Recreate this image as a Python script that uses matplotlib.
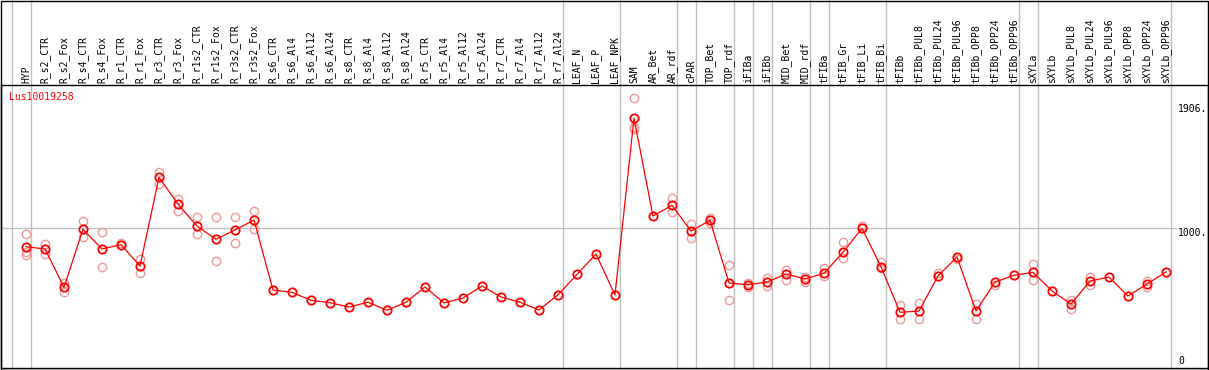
import matplotlib
matplotlib.use("Agg")
import matplotlib.pyplot as plt
from matplotlib.patches import Rectangle

# sample / tissue columns
labels = ["HYP", "R_s2_CTR", "R_s2_Fox", "R_s4_CTR", "R_s4_Fox", "R_r1_CTR", "R_r1_Fox",
          "R_r3_CTR", "R_r3_Fox", "R_r1s2_CTR", "R_r1s2_Fox", "R_r3s2_CTR", "R_r3s2_Fox",
          "R_s6_CTR", "R_s6_Al4", "R_s6_Al12", "R_s6_Al24", "R_s8_CTR", "R_s8_Al4",
          "R_s8_Al12", "R_s8_Al24", "R_r5_CTR", "R_r5_Al4", "R_r5_Al12", "R_r5_Al24",
          "R_r7_CTR", "R_r7_Al4", "R_r7_Al12", "R_r7_Al24", "LEAF_N", "LEAF_P", "LEAF_NPK",
          "SAM", "AR_Bet", "AR_rdf", "cPAR", "TOP_Bet", "TOP_rdf", "iFIBa", "iFIBb",
          "MID_Bet", "MID_rdf", "tFIBa", "tFIB_Gr", "tFIB_Li", "tFIB_Bi", "tFIBb",
          "tFIBb_PUL8", "tFIBb_PUL24", "tFIBb_PUL96", "tFIBb_OPP8", "tFIBb_OPP24",
          "tFIBb_OPP96", "sXYLa", "sXYLb", "sXYLb_PUL8", "sXYLb_PUL24", "sXYLb_PUL96",
          "sXYLb_OPP8", "sXYLb_OPP24", "sXYLb_OPP96"]

# mean expression per column
means = [866, 850, 572, 993, 850, 881, 726, 1370, 1176, 1017, 920, 988, 1060,
         552, 535, 477, 460, 428, 463, 405, 463, 574, 458, 494, 581, 501, 463, 407, 516,
         666, 813, 516, 1799, 1089, 1167, 980, 1058, 603, 590, 610, 668, 632, 673,
         826, 1000, 721, 390, 399, 654, 792, 399, 610, 659, 680, 545, 450, 617, 646,
         508, 596, 683]

# replicate values per column (empty = single replicate)
replicates = [[959, 830, 806], [884, 813], [605, 540], [1053, 939], [971, 717], [895],
              [777, 673], [1411, 1320], [1213, 1126], [1080, 956], [1080, 760],
              [1080, 891], [1126, 995],
              [], [], [], [], [], [], [], [], [], [], [], [], [], [], [], [],
              [], [], [],
              [1944, 1738, 1719], [], [1218, 1116], [1029, 927], [1077, 1036],
              [733, 477], [603, 576], [637, 583], [699, 625], [648, 610], [714, 656],
              [898, 782], [1017], [755, 710], [441, 339], [458, 341], [673], [777],
              [452, 341], [590], [], [743, 625], [], [479, 416], [644, 590], [],
              [], [619, 576], []]

# group separators (after these column indices)
separators = [-1, 0, 28, 31, 34, 35, 37, 38, 39, 41, 42, 45, 52, 53, 60]

W, H = 1209, 370
fig = plt.figure(figsize=(W / 100, H / 100), dpi=100)
ax = fig.add_axes([1 / W, (H - 368) / H, 1207 / W, 283 / H])
ax.set_xlim((1 - 26) / 19, (1208 - 26) / 19)
ax.set_ylim(-14.5, 2040.7)
ax.set_xticks([])
ax.set_yticks([])
for s in ax.spines.values():
    s.set_color("black")
    s.set_linewidth(1)

mono = "DejaVu Sans Mono"
fs = 7

for c in separators:
    ax.axvline(c + 5 / 19, ymin=0, ymax=368 / 283, color="#c0c0c0", lw=1,
               clip_on=False, zorder=1)
ax.plot([ax.get_xlim()[0], (1176 - 26) / 19], [1000, 1000], color="#c0c0c0", lw=1,
        zorder=1)

x = list(range(len(labels)))
for i, reps in enumerate(replicates):
    if reps:
        ax.plot([i] * len(reps), reps, "o", ms=6, mfc="none", mec="#ee9a9a", mew=1,
                zorder=2)
ax.plot(x, means, "-", color="red", lw=0.9, zorder=3)
ax.plot(x, means, "o", ms=6, mfc="none", mec="red", mew=1.3, zorder=4)

for i, lab in enumerate(labels):
    ax.text(i, 1 + 2 / 283, lab, transform=ax.get_xaxis_transform(), rotation=90,
            ha="center", va="bottom", fontsize=fs, family=mono, clip_on=False)

fig.text(9 / W, (H - 97.5) / H, "Lus10019258", color="red", fontsize=fs, family=mono,
         ha="left", va="center")

ytr = ax.get_yaxis_transform()
xr = (1178 - 1) / 1207
ax.text(xr, 1906, "1906.", transform=ytr, fontsize=fs, family=mono, ha="left", va="top")
ax.text(xr, 1000, "1000.", transform=ytr, fontsize=fs, family=mono, ha="left", va="top")
ax.text(xr, 0, "0", transform=ytr, fontsize=fs, family=mono, ha="left", va="bottom")

fig.add_artist(Rectangle((1 / W, 0.5 / H), 1207 / W, 369 / H, transform=fig.transFigure,
                         fill=False, edgecolor="black", lw=1))

fig.savefig("out.png", dpi=100)
